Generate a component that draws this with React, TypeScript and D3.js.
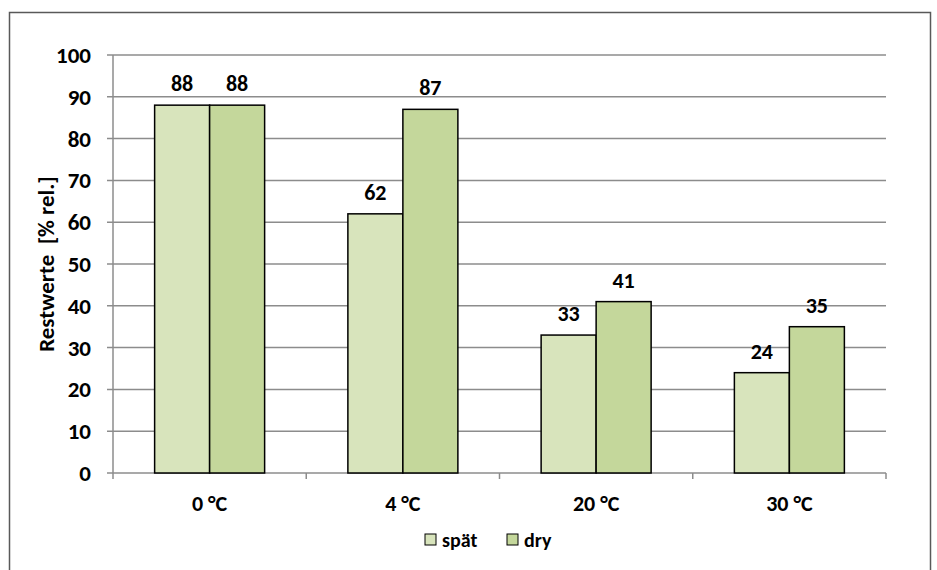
import React from "react";
import * as d3 from "d3";

const categories = ["0 °C", "4 °C", "20 °C", "30 °C"];
const seriesNames = ["spät", "dry"];
const spaet = [88, 62, 33, 24];
const dry = [88, 87, 41, 35];
const yTicks = [0, 10, 20, 30, 40, 50, 60, 70, 80, 90, 100];
const colors = ["#D8E4BC", "#C4D79B"];

export default function App() {
  const W = 937, H = 570;
  const left = 113, right = 886, top = 55, bottom = 473;
  const font = "Carlito, 'Open Sans', 'Liberation Sans', sans-serif";
  const x = d3.scaleBand().domain(categories).range([left, right]).paddingInner(0).paddingOuter(0);
  const y = d3.scaleLinear().domain([0, 100]).range([bottom, top]);
  const bw = 55;
  const series = [spaet, dry];
  return (
    <svg width={W} height={H} style={{ position: "absolute", left: 0, top: 0 }} fontFamily={font}>
      <rect x={0} y={0} width={W} height={H} fill="#fff" />
      <rect x={9.5} y={12.5} width={921} height={H} fill="#fff" stroke="#595959" strokeWidth={1.5} />
      {yTicks.map((t) => (
        <g key={t}>
          <line x1={left - 6} x2={right} y1={y(t)} y2={y(t)} stroke="#8c8c8c" strokeWidth={1.5} />
          <text x={91} y={y(t)} dy="0.35em" textAnchor="end" fontSize={23} fontWeight="bold" fill="#000">{t}</text>
        </g>
      ))}
      <line x1={left} x2={left} y1={top} y2={bottom + 6} stroke="#8c8c8c" strokeWidth={1.5} />
      {categories.map((c) => (
        <line key={c} x1={(x(c) as number) + x.bandwidth()} x2={(x(c) as number) + x.bandwidth()} y1={bottom} y2={bottom + 6} stroke="#8c8c8c" strokeWidth={1.5} />
      ))}
      {series.map((vals, s) =>
        vals.map((v, i) => {
          const cx = (x(categories[i]) as number) + x.bandwidth() / 2;
          const bx = cx - bw + s * bw;
          return (
            <g key={`${s}-${i}`}>
              <rect x={bx} y={y(v)} width={bw} height={bottom - y(v)} fill={colors[s]} stroke="#000" strokeWidth={1.5} />
              <text x={bx + bw / 2} y={y(v) - 14} textAnchor="middle" fontSize={22} fontWeight="bold" fill="#000">{v}</text>
            </g>
          );
        })
      )}
      {categories.map((c) => (
        <text key={c} x={(x(c) as number) + x.bandwidth() / 2} y={511} textAnchor="middle" fontSize={22} fontWeight="bold" fill="#000">{c}</text>
      ))}
      <text transform={`translate(54,264) rotate(-90)`} textAnchor="middle" fontSize={23} fontWeight="bold" fill="#000" style={{ whiteSpace: "pre" }}>{"Restwerte  [% rel.]"}</text>
      {seriesNames.map((n, i) => {
        const lx = [425, 507][i];
        return (
          <g key={n}>
            <rect x={lx} y={534} width={11} height={11} fill={colors[i]} stroke="#000" strokeWidth={1} />
            <text x={lx + 17} y={547} fontSize={20} fontWeight="bold" fill="#000">{n}</text>
          </g>
        );
      })}
    </svg>
  );
}
